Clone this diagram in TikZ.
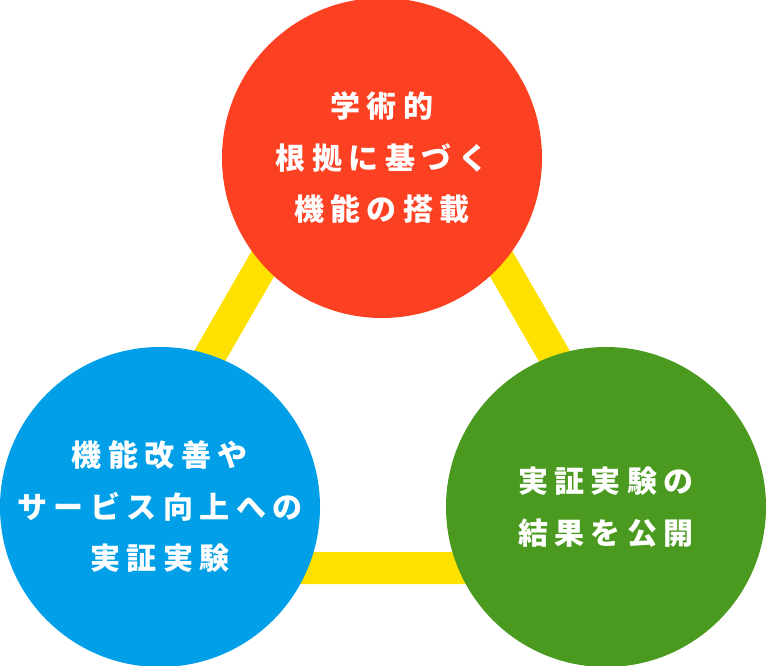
\documentclass[tikz,border=0pt]{standalone}
\usepackage{fontspec}
\newfontfamily\jp{Noto Sans CJK JP}
\definecolor{cred}{HTML}{FC4022}
\definecolor{cblue}{HTML}{009FE8}
\definecolor{cgreen}{HTML}{4A9A1F}
\definecolor{cyellow}{HTML}{FFE100}
\makeatletter
\def\spaced#1{\spaced@aux#1\relax}
\def\spaced@aux#1{\ifx#1\relax\unkern\else#1\kern6.5pt\expandafter\spaced@aux\fi}
\makeatother
\tikzset{
  bubble/.style={circle, minimum size=320pt, inner sep=0pt, fill=#1, text=white,
    font=\jp\bfseries\fontsize{30pt}{51.5pt}\selectfont, align=center},
  linkbar/.style={draw=cyellow, line width=32pt, line join=miter}
}
\begin{document}
\begin{tikzpicture}[x=1pt,y=-1pt]
\useasboundingbox (0,0) rectangle (766,666);
\coordinate (ta) at (382,57);
\coordinate (tb) at (87.5,568);
\coordinate (tc) at (676.5,568);
\draw[linkbar] (ta) -- (tb) -- (tc) -- cycle;
\node[bubble=cred] (top) at (382,158) {\spaced{学術的}\\\spaced{根拠に基づく}\\\spaced{機能の搭載}};
\node[bubble=cblue] (left) at (160,507) {\spaced{機能改善や}\\\spaced{サービス向上への}\\\spaced{実証実験}};
\node[bubble=cgreen] (right) at (606,507) {\spaced{実証実験の}\\\spaced{結果を公開}};
\end{tikzpicture}
\end{document}
